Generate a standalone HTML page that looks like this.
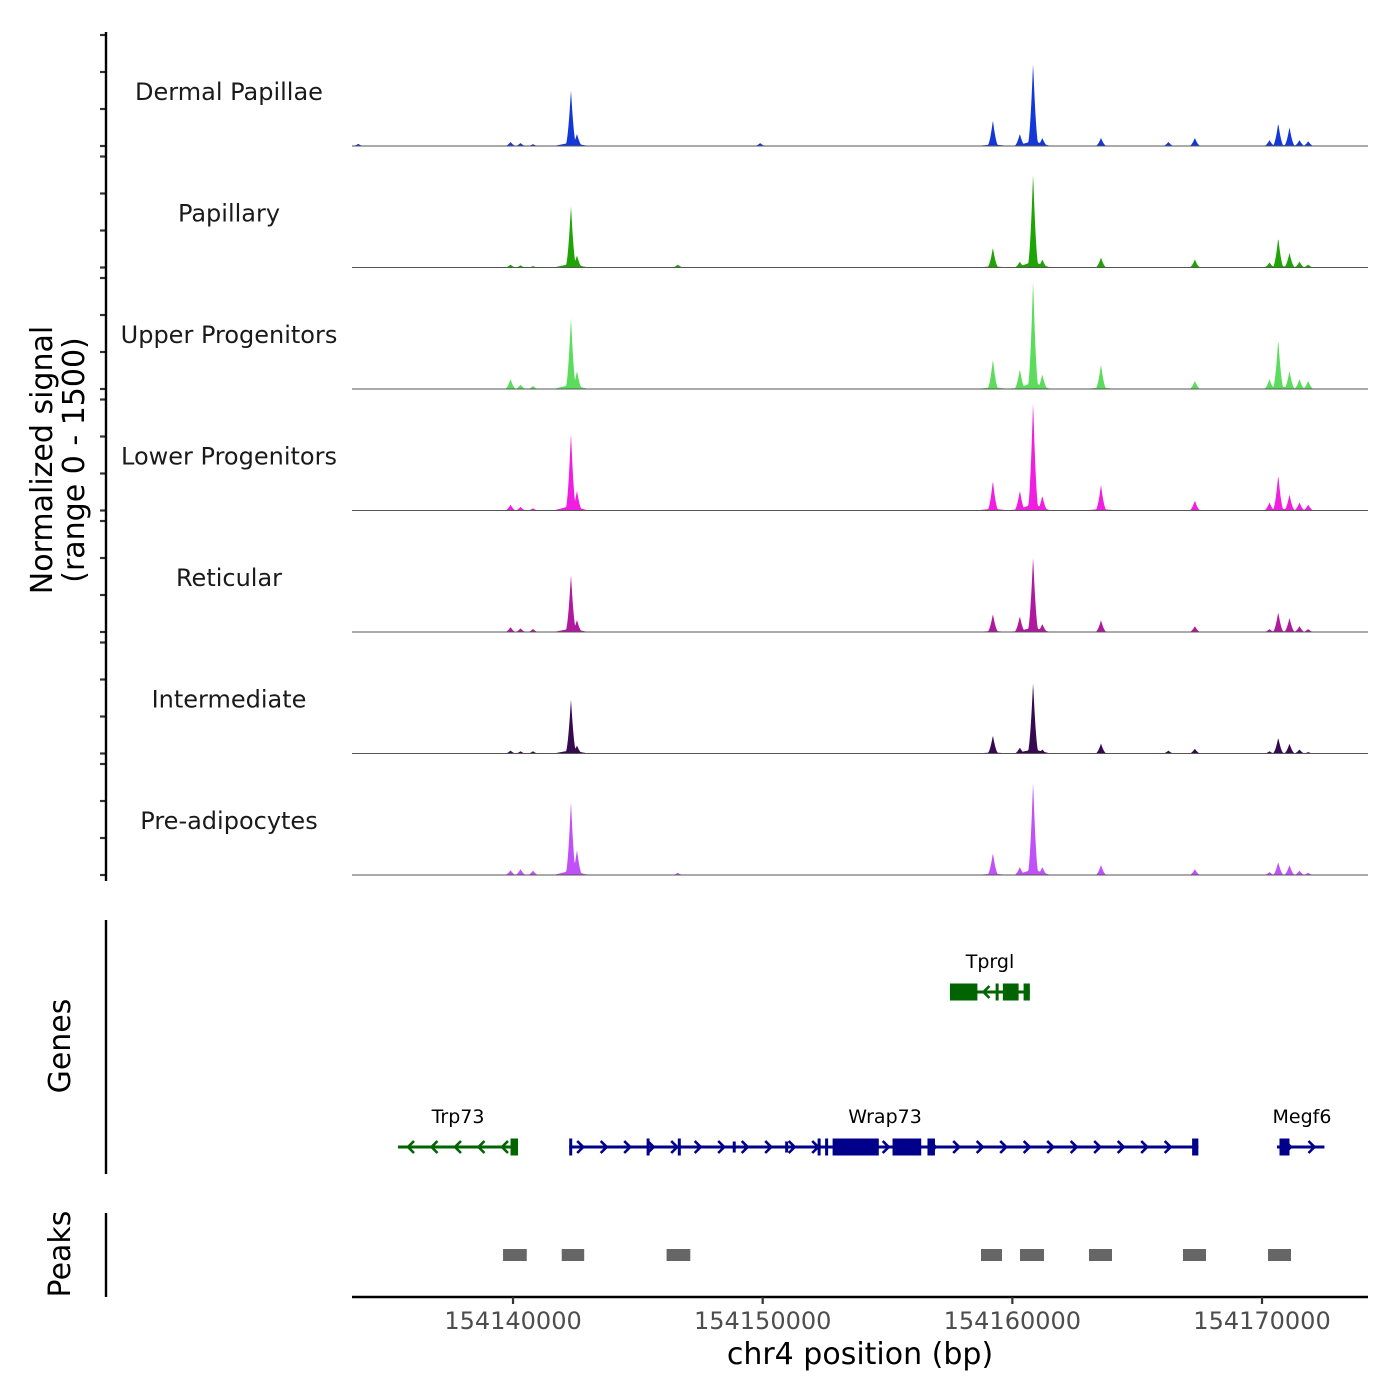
<!DOCTYPE html>
<html><head><meta charset="utf-8"><style>
body{margin:0;background:#fff}
svg{display:block;font-family:"DejaVu Sans","Liberation Sans",sans-serif}
</style></head><body>
<svg id="chart" width="1400" height="1400" viewBox="0 0 1400 1400" xmlns="http://www.w3.org/2000/svg"></svg>
<script>
// ---- data ----
const trackNames = ["Dermal Papillae","Papillary","Upper Progenitors","Lower Progenitors","Reticular","Intermediate","Pre-adipocytes"];
const trackColors = ["#1437d8","#1ea405","#5cdc5c","#f01ee0","#b0189f","#360a50","#c050f8"];
const peakPos = [154133800,154139900,154140300,154140800,154142320,154142560,154146600,154149900,154159220,154160300,154160830,154161200,154163550,154166250,154167310,154170300,154170650,154171100,154171500,154171850];
const sigDP  = [30,55,40,25,760,165,0,40,350,165,1130,110,110,55,110,80,310,255,80,65];
const sigPap = [0,40,30,20,840,165,40,0,270,80,1280,110,135,0,110,70,405,200,80,40];
const sigUP  = [0,135,60,40,970,245,0,0,405,270,1480,200,335,0,110,135,675,245,135,110];
const sigLP  = [0,80,50,30,1050,270,0,0,405,270,1480,200,350,0,135,110,485,215,110,80];
const sigRet = [0,65,50,40,780,165,0,0,245,215,1025,110,160,0,80,40,270,190,80,40];
const sigInt = [0,40,30,30,740,110,0,0,245,80,970,55,135,40,65,30,215,135,55,20];
const sigPre = [0,65,80,60,1000,340,30,0,300,110,1270,110,135,0,80,40,175,135,60,30];
const trackSignals = [sigDP,sigPap,sigUP,sigLP,sigRet,sigInt,sigPre];
const xTicks = [154140000,154150000,154160000,154170000];
const yTicks = [0,500,1000,1500];
const peakStarts = [154139600,154141950,154146150,154158744,154160306,154163070,154166835,154170240];
const peakEnds   = [154140550,154142850,154147100,154159585,154161268,154163991,154167756,154171161];
// genes: [name,start,end,strand,color,row]
const genes = [
 ["Tprgl",154157500,154160700,-1,"#006400",0],
 ["Trp73",154135392,154140200,-1,"#006400",1],
 ["Wrap73",154142250,154167450,1,"#00008b",1],
 ["Megf6",154170600,154172500,1,"#00008b",1]
];
const exonGene   = [0,0,0,0,1,2,2,2,2,2,2,2,2,2,2,2,3];
const exonStarts = [154157500,154159330,154159620,154160450,154139900,154142250,154145350,154146600,154148800,154150900,154152200,154152500,154152800,154155200,154156600,154167200,154170700];
const exonEnds   = [154158600,154159430,154160250,154160700,154140200,154142350,154145450,154146700,154148900,154151000,154152300,154152600,154154650,154156350,154156900,154167450,154171100];
const exonTall   = [1,1,1,1,1,1,1,1,0,0,1,1,1,1,1,1,1];

// ---- scales ----
const X0=352,X1=1368,D0=154133550,D1=154174245;
const xs=v=>X0+(v-D0)/(D1-D0)*(X1-X0);
const trackH=121.5, firstBase=146;
const ys=(i,v)=>firstBase+i*trackH - v/1500*111;
const svg=document.getElementById('chart');
const NS="http://www.w3.org/2000/svg";
function mk(tag,attrs,parent){const e=document.createElementNS(NS,tag);for(const k in attrs)e.setAttribute(k,attrs[k]);(parent||svg).appendChild(e);return e;}

// tracks
trackNames.forEach((nm,i)=>{
  const g=mk('g',{});
  
  
  const sig=trackSignals[i];
  let d='M'+X0+','+ys(i,0);
  for(let px=X0;px<=1325;px+=0.5){
    const bp=D0+(px-X0)/(X1-X0)*(D1-D0);
    let v=0;
    for(let k=0;k<peakPos.length;k++){
      const w=230, dd=Math.abs(bp-peakPos[k]);
      if(dd<w){v=Math.max(v,sig[k]*Math.pow(1-dd/w,1.8));}
      const w2=700;
      if(dd<w2){v=Math.max(v,sig[k]*0.06*(1-dd/w2));}
    }
    d+='L'+px+','+ys(i,v).toFixed(2);
  }
  d+='L1325,'+ys(i,0)+'Z';
  const p=mk('path',{d:d,fill:trackColors[i]},g);
  
  
  const bl=mk('line',{x1:X0,x2:X1,y1:ys(i,0),y2:ys(i,0),stroke:'#555','stroke-width':1},g);
  
  
  const t=mk('text',{x:229,y:ys(i,0)-46,'text-anchor':'middle','font-size':24,fill:'#1a1a1a'},g);
  t.textContent=nm;
  
  
  yTicks.forEach(v=>{
    const tk=mk('line',{x1:100,x2:106,y1:ys(i,v),y2:ys(i,v),stroke:'#333','stroke-width':2.2},g);
    
    
  });
});
let a=mk('line',{x1:106,x2:106,y1:32,y2:881,stroke:'#000','stroke-width':2.4});

let yt=mk('text',{transform:'translate(52,460) rotate(-90)','text-anchor':'middle','font-size':30,fill:'#000'});
yt.innerHTML='<tspan x="0" dy="0">Normalized signal</tspan><tspan x="0" dy="32">(range 0 - 1500)</tspan>';


// genes
a=mk('line',{x1:106,x2:106,y1:920,y2:1174,stroke:'#000','stroke-width':2.4});

let gt=mk('text',{transform:'translate(70,1046) rotate(-90)','text-anchor':'middle','font-size':30});
gt.textContent='Genes';
const rowY=[992,1147];
genes.forEach((gn,gi)=>{
  const g=mk('g',{});
  
  
  const y=rowY[gn[5]], x1=xs(gn[1]), x2=xs(gn[2]), c=gn[4];
  mk('line',{x1:x1,x2:x2,y1:y,y2:y,stroke:c,'stroke-width':3},g);
  for(let x=x1+12;x<x2-8;x+=23.5){
    const s=gn[3];
    mk('polyline',{points:`${x-4*s},${y-6} ${x+2*s},${y} ${x-4*s},${y+6}`,fill:'none',stroke:c,'stroke-width':2.6},g);
  }
  exonStarts.forEach((es,k)=>{
    if(exonGene[k]===gi){
      const ex=xs(es),w=Math.max(xs(exonEnds[k])-ex,3),h=exonTall[k]?17:11;
      const r=mk('rect',{x:ex,y:y-h/2,width:w,height:h,fill:c},g);
      
    }
  });
  const lab=mk('text',{x:(x1+x2)/2,y:y-24,'text-anchor':'middle','font-size':19,fill:'#000'},g);
  if(gn[0]==='Trp73')lab.setAttribute('x',458);
  if(gn[0]==='Megf6')lab.setAttribute('x',1302);
  if(gn[0]==='Tprgl')lab.setAttribute('x',990);
  if(gn[0]==='Wrap73')lab.setAttribute('x',885);
  lab.textContent=gn[0];
  
});

// peaks
a=mk('line',{x1:106,x2:106,y1:1213,y2:1297,stroke:'#000','stroke-width':2.4});

let pt=mk('text',{transform:'translate(70,1254) rotate(-90)','text-anchor':'middle','font-size':30});
pt.textContent='Peaks';
peakStarts.forEach((s,k)=>{
  const r=mk('rect',{x:xs(s),y:1249,width:xs(peakEnds[k])-xs(s),height:12,fill:'#666'});
  
});

// x axis
a=mk('line',{x1:X0,x2:X1,y1:1297,y2:1297,stroke:'#000','stroke-width':2.4});

xTicks.forEach(v=>{
  const l=mk('line',{x1:xs(v),x2:xs(v),y1:1297,y2:1304,stroke:'#333','stroke-width':2.2});
  
  const t=mk('text',{x:xs(v),y:1329,'text-anchor':'middle','font-size':24,fill:'#4d4d4d'});
  t.textContent=v;
});
let xt=mk('text',{x:860,y:1364,'text-anchor':'middle','font-size':30});
xt.textContent='chr4 position (bp)';
</script>
</body></html>
